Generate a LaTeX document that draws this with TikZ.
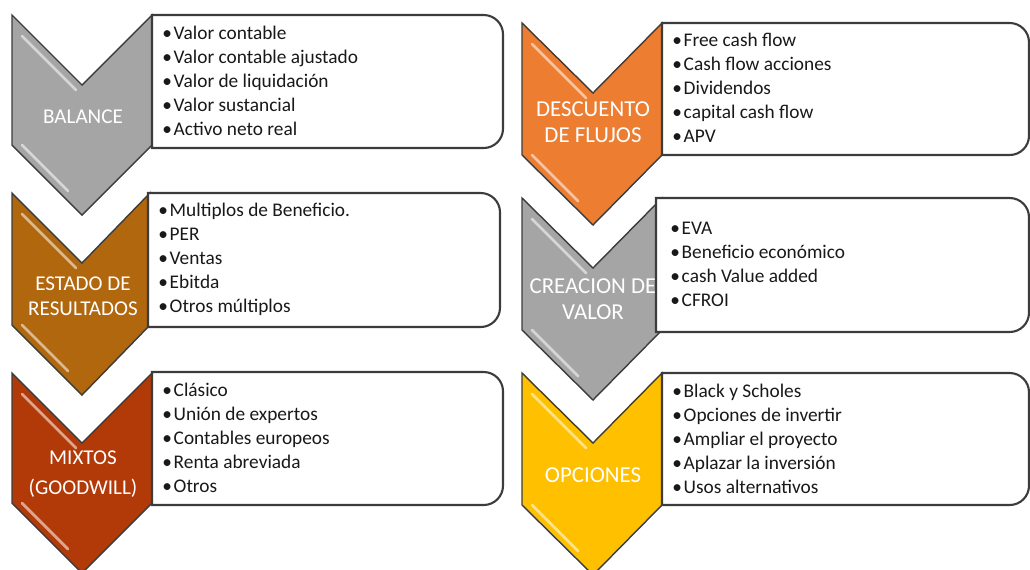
\documentclass[tikz,border=0pt]{standalone}
\usepackage{fontspec}
\setmainfont{Carlito}
\usetikzlibrary{positioning}

\definecolor{gris}{HTML}{A5A5A5}
\definecolor{marron}{HTML}{B0670E}
\definecolor{teja}{HTML}{B23A08}
\definecolor{naranja}{HTML}{ED7D31}
\definecolor{oro}{HTML}{FFC000}
\definecolor{borde}{HTML}{3C3C3C}

\begin{document}
\begin{tikzpicture}[
    x=0.02cm, y=-0.02cm,
    every node/.style={font=\rmfamily},
    chevron/.style={draw=borde, line width=0.8pt, line join=miter},
    brillo/.style={draw=white, line width=1.6pt, opacity=0.55, line cap=round},
    caja/.style={draw=borde, line width=1.2pt, fill=white},
    etiqueta/.style={text=white, align=center, font=\fontsize{12}{14}\selectfont},
    etiqueta grande/.style={etiqueta, font=\fontsize{13}{15}\selectfont},
    lista/.style={anchor=west, align=left, text=black!90, inner sep=0pt,
                  font=\fontsize{11}{13.65}\selectfont}
]
\useasboundingbox (0,0) rectangle (1030,569);

% ---- Columna izquierda: flechas ----
\draw[chevron, fill=gris]   (12,15)  -- ++(70,70) -- ++(70,-70) -- ++(0,130) -- ++(-70,70) -- ++(-70,-70) -- cycle;
\draw[chevron, fill=marron] (12,193) -- ++(70,70) -- ++(68,-70) -- ++(0,132) -- ++(-68,70) -- ++(-70,-70) -- cycle;
\draw[chevron, fill=teja]   (12,373) -- ++(70,70) -- ++(70,-70) -- ++(0,130) -- ++(-70,70) -- ++(-70,-70) -- cycle;

% reflejos sobre los bordes inclinados
\draw[brillo] (22,36)  -- ++(54,54);  \draw[brillo] (22,145) -- ++(46,46);
\draw[brillo] (22,214) -- ++(54,54);  \draw[brillo] (22,325) -- ++(46,46);
\draw[brillo] (22,394) -- ++(54,54);  \draw[brillo] (22,503) -- ++(46,46);

\node[etiqueta] (balance) at (83,117) {BALANCE};
\node[etiqueta] (estado)  at (83,296) {ESTADO DE\\RESULTADOS};
\node[etiqueta] (mixtos)  at (83,474) {MIXTOS\\[3pt](GOODWILL)};

% ---- Columna derecha: flechas ----
\draw[chevron, fill=naranja] (522,23)  -- ++(71,70) -- ++(69,-70) -- ++(0,132) -- ++(-69,70) -- ++(-71,-70) -- cycle;
\draw[chevron, fill=gris]    (522,198) -- ++(71,70) -- ++(69,-70) -- ++(0,132) -- ++(-69,70) -- ++(-71,-70) -- cycle;
\draw[chevron, fill=oro]     (522,373) -- ++(71,70) -- ++(69,-70) -- ++(0,132) -- ++(-69,70) -- ++(-71,-70) -- cycle;

\draw[brillo] (532,44)  -- ++(54,54);  \draw[brillo] (532,155) -- ++(46,46);
\draw[brillo] (532,219) -- ++(54,54);  \draw[brillo] (532,330) -- ++(46,46);
\draw[brillo] (532,394) -- ++(54,54);  \draw[brillo] (532,505) -- ++(46,46);

\node[etiqueta grande] (descuento) at (593,122) {DESCUENTO\\DE FLUJOS};
\node[etiqueta grande] (creacion)  at (593,299) {CREACION DE\\VALOR};
\node[etiqueta grande] (opciones)  at (593,475) {OPCIONES};

% ---- Cajas de texto (esquinas derechas redondeadas) ----
\draw[caja] (152,148) -- (152,15)  [rounded corners=11pt] -- (503,15)   -- (503,148)  [sharp corners] -- cycle;
\draw[caja] (148,327) -- (148,193) [rounded corners=11pt] -- (500,193)  -- (500,327)  [sharp corners] -- cycle;
\draw[caja] (152,505) -- (152,372) [rounded corners=11pt] -- (503,372)  -- (503,505)  [sharp corners] -- cycle;
\draw[caja] (662,155) -- (662,23)  [rounded corners=11pt] -- (1029,23)  -- (1029,155) [sharp corners] -- cycle;
\draw[caja] (656,332) -- (656,198) [rounded corners=11pt] -- (1029,198) -- (1029,332) [sharp corners] -- cycle;
\draw[caja] (662,505) -- (662,373) [rounded corners=11pt] -- (1029,373) -- (1029,505) [sharp corners] -- cycle;

% ---- Listas ----
\node[lista] (lbalance) at (162,81) {•\hspace{1pt}Valor contable\\ •\hspace{1pt}Valor contable ajustado\\ •\hspace{1pt}Valor de liquidación\\ •\hspace{1pt}Valor sustancial\\ •\hspace{1pt}Activo neto real};
\node[lista] (lestado) at (158,259) {•\hspace{1pt}Multiplos de Beneficio.\\ •\hspace{1pt}PER\\ •\hspace{1pt}Ventas\\ •\hspace{1pt}Ebitda\\ •\hspace{1pt}Otros múltiplos};
\node[lista] (lmixtos) at (162,438) {•\hspace{1pt}Clásico\\ •\hspace{1pt}Unión de expertos\\ •\hspace{1pt}Contables europeos\\ •\hspace{1pt}Renta abreviada\\ •\hspace{1pt}Otros};

\node[lista] (ldescuento) at (672,88) {•\hspace{1pt}Free cash flow\\ •\hspace{1pt}Cash flow acciones\\ •\hspace{1pt}Dividendos\\ •\hspace{1pt}capital cash flow\\ •\hspace{1pt}APV};
\node[lista] (lcreacion) at (670,264) {•\hspace{1pt}EVA\\ •\hspace{1pt}Beneficio económico\\ •\hspace{1pt}cash Value added\\ •\hspace{1pt}CFROI};
\node[lista] (lopciones) at (672,439) {•\hspace{1pt}Black y Scholes\\ •\hspace{1pt}Opciones de invertir\\ •\hspace{1pt}Ampliar el proyecto\\ •\hspace{1pt}Aplazar la inversión\\ •\hspace{1pt}Usos alternativos};

\end{tikzpicture}
\end{document}
